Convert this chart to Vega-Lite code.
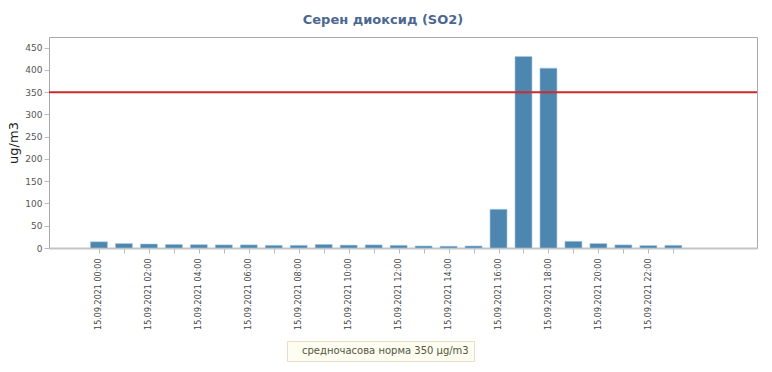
{
  "$schema": "https://vega.github.io/schema/vega-lite/v6.json",
  "autosize": "none",
  "width": 708,
  "height": 211,
  "padding": {"left": 49, "top": 37, "right": 15, "bottom": 124},
  "background": "#ffffff",
  "title": {
    "text": "Серен диоксид (SO2)",
    "font": "DejaVu Sans",
    "fontSize": 13,
    "fontWeight": "bold",
    "color": "#4b6791",
    "anchor": "middle",
    "dx": -20,
    "offset": 10
  },
  "config": {
    "view": {"stroke": "#aaaaaa", "strokeWidth": 1},
    "axis": {"grid": false, "labelFont": "DejaVu Sans", "titleFont": "DejaVu Sans"},
    "axisY": {
      "labelOverlap": false,
      "labelFontSize": 9,
      "labelColor": "#555555",
      "tickColor": "#bbbbbb",
      "tickSize": 5,
      "domainColor": "#aaaaaa",
      "titleFontSize": 13,
      "titleFontWeight": "normal",
      "titleColor": "#222222",
      "titlePadding": 4
    }
  },
  "layer": [
    {
      "data": {
        "values": [
          {"hour": 0, "value": 14},
          {"hour": 1, "value": 10},
          {"hour": 2, "value": 9},
          {"hour": 3, "value": 8},
          {"hour": 4, "value": 7.5},
          {"hour": 5, "value": 7},
          {"hour": 6, "value": 7},
          {"hour": 7, "value": 6},
          {"hour": 8, "value": 6},
          {"hour": 9, "value": 8},
          {"hour": 10, "value": 6.5},
          {"hour": 11, "value": 7},
          {"hour": 12, "value": 6},
          {"hour": 13, "value": 4.5},
          {"hour": 14, "value": 4},
          {"hour": 15, "value": 4.5},
          {"hour": 16, "value": 87},
          {"hour": 17, "value": 430},
          {"hour": 18, "value": 404},
          {"hour": 19, "value": 15},
          {"hour": 20, "value": 10},
          {"hour": 21, "value": 7},
          {"hour": 22, "value": 5.5},
          {"hour": 23, "value": 6}
        ]
      },
      "mark": {"type": "bar", "size": 17, "color": "#4d86ae", "stroke": "#a9c9e0", "strokeWidth": 0.6},
      "encoding": {
        "x": {
          "field": "hour",
          "type": "quantitative",
          "scale": {"domain": [-1.8, 26.15], "nice": false, "zero": false},
          "axis": {
            "title": null,
            "values": [0,1,2,3,4,5,6,7,8,9,10,11,12,13,14,15,16,17,18,19,20,21,22,23],
            "labelExpr": "datum.value % 2 == 0 ? '15.09.2021 ' + (datum.value < 10 ? '0' : '') + datum.value + ':00' : ''",
            "labelAngle": 270,
            "labelAlign": "right",
            "labelBaseline": "middle",
            "labelOverlap": false,
            "labelFontSize": 8,
            "labelColor": "#444444",
            "labelPadding": 5,
            "tickColor": "#bbbbbb",
            "tickSize": 5,
            "domainColor": "#c4c4c4",
            "domainWidth": 2
          }
        },
        "y": {
          "field": "value",
          "type": "quantitative",
          "scale": {"domain": [0, 474], "nice": false},
          "axis": {
            "title": "ug/m3",
            "values": [0, 50, 100, 150, 200, 250, 300, 350, 400, 450]
          }
        }
      }
    },
    {
      "data": {"values": [{"limit": 350, "label": "средночасова норма 350 μg/m3"}]},
      "mark": {"type": "rule", "strokeWidth": 2},
      "encoding": {
        "y": {
          "field": "limit",
          "type": "quantitative",
          "axis": {
            "title": "ug/m3",
            "values": [0, 50, 100, 150, 200, 250, 300, 350, 400, 450]
          }
        },
        "color": {
          "field": "label",
          "type": "nominal",
          "scale": {"range": ["#cc2b2b"]},
          "legend": {
            "title": null,
            "orient": "none",
            "legendX": 238,
            "legendY": 304,
            "padding": 5,
            "fillColor": "#fdfdf1",
            "strokeColor": "#e7dec5",
            "symbolSize": 0,
            "symbolStrokeWidth": 0,
            "labelOffset": 0,
            "labelLimit": 400,
            "labelFont": "DejaVu Sans",
            "labelFontSize": 10,
            "labelColor": "#56563c"
          }
        }
      }
    }
  ]
}
